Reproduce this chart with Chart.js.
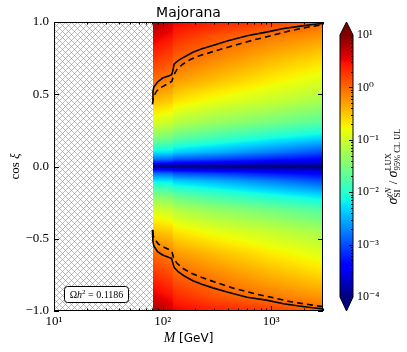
<!DOCTYPE html>
<html>
<head>
<meta charset="utf-8">
<script src="https://cdn.jsdelivr.net/npm/chart.js@4.4.1/dist/chart.umd.min.js"></script>
<style>
  html, body { margin: 0; padding: 0; background: #fff; }
</style>
</head>
<body>
<canvas id="chart" width="407" height="352"></canvas>
<script>
// log10(sigma_SI / sigma_UL), one row per mass node, at |cos xi| nodes
const massNodes = [81, 124, 126, 300, 1000, 3000];
const cosNodes = [0, 0.02, 0.05, 0.1, 0.2, 0.3, 0.45, 0.6, 0.75, 0.9, 1.0];
const logRatioM81   = [-4, -3.4, -2.8, -2.2, -1.45, -0.95, -0.45, 0.0, 0.3, 0.6, 0.85];
const logRatioM124  = [-4, -3.45, -2.85, -2.25, -1.55, -1.05, -0.55, -0.15, 0.15, 0.45, 0.65];
const logRatioM126  = [-4, -3.5, -2.95, -2.35, -1.65, -1.15, -0.65, -0.25, 0.05, 0.35, 0.55];
const logRatioM300  = [-4, -3.6, -3.05, -2.5, -1.85, -1.35, -0.85, -0.45, -0.15, 0.12, 0.4];
const logRatioM1000 = [-4, -3.7, -3.25, -2.75, -2.1, -1.55, -1.05, -0.7, -0.4, -0.1, 0.25];
const logRatioM3000 = [-4, -3.75, -3.4, -3.0, -2.3, -1.75, -1.25, -0.9, -0.6, -0.25, 0.0];
const logRatioRows = [logRatioM81, logRatioM124, logRatioM126, logRatioM300, logRatioM1000, logRatioM3000];

const mCut = 81; // hatched below this mass

// contour lines (M in GeV, cos xi)
const upperSolidM = [80.6, 81.5, 83, 90, 100, 115, 121, 124, 128, 140, 160, 190, 230, 290, 400, 600, 900, 1300, 1800, 2400, 3000];
const upperSolidC = [0.46, 0.52, 0.55, 0.585, 0.612, 0.628, 0.635, 0.66, 0.71, 0.735, 0.76, 0.79, 0.815, 0.838, 0.87, 0.905, 0.93, 0.955, 0.97, 0.983, 0.99];
const lowerSolidM = [80.6, 81.5, 83, 90, 100, 115, 121, 124, 128, 140, 160, 190, 230, 290, 400, 600, 900, 1300, 1800, 2400, 3000];
const lowerSolidC = [-0.44, -0.52, -0.55, -0.59, -0.612, -0.63, -0.636, -0.665, -0.70, -0.73, -0.76, -0.79, -0.815, -0.84, -0.87, -0.905, -0.925, -0.95, -0.965, -0.978, -0.985];
const upperDashM = [80.8, 82, 86, 91, 100, 115, 122, 126, 135, 153, 180, 218, 290, 440, 700, 1000, 1500, 2200, 3000];
const upperDashC = [0.43, 0.47, 0.51, 0.535, 0.553, 0.578, 0.59, 0.63, 0.67, 0.708, 0.74, 0.766, 0.795, 0.835, 0.877, 0.905, 0.94, 0.965, 0.982];
const lowerDashM = [80.8, 82, 86, 91, 100, 115, 122, 126, 135, 153, 180, 218, 290, 440, 700, 1000, 1500, 2200, 3000];
const lowerDashC = [-0.45, -0.48, -0.51, -0.535, -0.555, -0.576, -0.59, -0.63, -0.668, -0.704, -0.735, -0.762, -0.795, -0.84, -0.88, -0.905, -0.935, -0.955, -0.97];

const xTicks = [10, 100, 1000];
const yTicks = [-1, -0.5, 0, 0.5, 1];
const cbTicks = [1e-4, 1e-3, 1e-2, 1e-1, 1, 10];
const cbMinLog = -4, cbMaxLog = 1;

const SERIF = '"Liberation Serif", "DejaVu Serif", serif';
const SANS = '"DejaVu Sans", sans-serif';

const sup = { '0': '⁰', '1': '¹', '2': '²', '3': '³', '4': '⁴', '-': '⁻' };
function powLabel(v) {
  const e = String(Math.round(Math.log10(v)));
  return '10' + e.split('').map(ch => sup[ch]).join('');
}

const R = [[0, 0], [0.35, 0], [0.66, 1], [0.89, 1], [1, 0.5]];
const G = [[0, 0], [0.125, 0], [0.375, 1], [0.64, 1], [0.91, 0], [1, 0]];
const B = [[0, 0.5], [0.11, 1], [0.34, 1], [0.65, 0], [1, 0]];
function seg(pts, t) {
  for (let i = 0; i < pts.length - 1; i++) {
    const [x0, y0] = pts[i], [x1, y1] = pts[i + 1];
    if (t <= x1) return y0 + (y1 - y0) * (t - x0) / (x1 - x0);
  }
  return pts[pts.length - 1][1];
}
function jet(t) {
  t = Math.min(1, Math.max(0, t));
  return [seg(R, t) * 255, seg(G, t) * 255, seg(B, t) * 255];
}
function jetCss(t) {
  const [r, g, b] = jet(t);
  return `rgb(${r | 0},${g | 0},${b | 0})`;
}

function lookup(M, c) {
  const lm = Math.log10(M);
  let i = 0;
  while (i < massNodes.length - 2 && Math.log10(massNodes[i + 1]) < lm) i++;
  const l0 = Math.log10(massNodes[i]), l1 = Math.log10(massNodes[i + 1]);
  const tm = Math.min(1, Math.max(0, (lm - l0) / (l1 - l0)));
  c = Math.abs(c);
  let j = 0;
  while (j < cosNodes.length - 2 && cosNodes[j + 1] < c) j++;
  const tc = Math.min(1, Math.max(0, (c - cosNodes[j]) / (cosNodes[j + 1] - cosNodes[j])));
  const a = logRatioRows[i][j] * (1 - tc) + logRatioRows[i][j + 1] * tc;
  const b = logRatioRows[i + 1][j] * (1 - tc) + logRatioRows[i + 1][j + 1] * tc;
  return a * (1 - tm) + b * tm;
}

// text with stacked sub/superscripts
function drawRuns(ctx, runs, x, y, draw) {
  let cx = x, prevStart = x, prevW = 0;
  for (const r of runs) {
    ctx.font = r.f;
    const w = ctx.measureText(r.t).width;
    const sx = r.stack ? prevStart : cx;
    if (draw) ctx.fillText(r.t, sx, y + (r.dy || 0));
    cx = r.stack ? prevStart + Math.max(prevW, w) : sx + w;
    prevStart = sx; prevW = w;
  }
  return cx - x;
}
function drawCentered(ctx, runs, cx, y) {
  const w = drawRuns(ctx, runs, 0, 0, false);
  drawRuns(ctx, runs, cx - w / 2, y, true);
}

const heatmap = {
  id: 'heatmap',
  beforeDatasetsDraw(chart) {
    const { ctx, chartArea: a, scales: { x, y } } = chart;
    const w = Math.round(a.right - a.left), h = Math.round(a.bottom - a.top);
    const off = document.createElement('canvas');
    off.width = w; off.height = h;
    const octx = off.getContext('2d');
    const img = octx.createImageData(w, h);
    const cutPx = x.getPixelForValue(mCut);
    for (let i = 0; i < w; i++) {
      const px = a.left + i + 0.5;
      if (px < cutPx) continue;
      const M = x.getValueForPixel(px);
      for (let j = 0; j < h; j++) {
        const c = y.getValueForPixel(a.top + j + 0.5);
        const [r, g, b] = jet((lookup(M, c) - cbMinLog) / (cbMaxLog - cbMinLog));
        const k = (j * w + i) * 4;
        img.data[k] = r; img.data[k + 1] = g; img.data[k + 2] = b; img.data[k + 3] = 255;
      }
    }
    octx.putImageData(img, 0, 0);
    ctx.drawImage(off, a.left, a.top);

    // hatched region
    ctx.save();
    ctx.beginPath();
    ctx.rect(a.left, a.top, cutPx - a.left, a.bottom - a.top);
    ctx.fillStyle = '#fff';
    ctx.fill();
    ctx.clip();
    ctx.strokeStyle = '#8c8c8c';
    ctx.lineWidth = 0.6;
    ctx.beginPath();
    for (let d = -h; d < (cutPx - a.left) + h; d += 6) {
      ctx.moveTo(a.left + d, a.top); ctx.lineTo(a.left + d + h, a.bottom);
      ctx.moveTo(a.left + d, a.bottom); ctx.lineTo(a.left + d + h, a.top);
    }
    ctx.stroke();
    ctx.restore();
  },
  afterDatasetsDraw(chart) {
    const { ctx, chartArea: a, scales: { x, y } } = chart;
    ctx.save();
    ctx.strokeStyle = '#000';
    ctx.lineWidth = 1;
    ctx.strokeRect(a.left + 0.5, a.top + 0.5, a.right - a.left - 1, a.bottom - a.top - 1);
    ctx.beginPath();
    // x ticks, major and minor, top and bottom, inward
    for (let e = 1; e <= 3; e++) {
      for (let m = 1; m <= 9; m++) {
        const v = m * Math.pow(10, e);
        if (v < 10 || v > 3000) continue;
        const px = Math.round(x.getPixelForValue(v)) + 0.5;
        const len = m === 1 ? 5 : 2.5;
        ctx.moveTo(px, a.bottom); ctx.lineTo(px, a.bottom - len);
        ctx.moveTo(px, a.top); ctx.lineTo(px, a.top + len);
      }
    }
    for (const v of yTicks) {
      const py = Math.round(y.getPixelForValue(v)) + 0.5;
      ctx.moveTo(a.left, py); ctx.lineTo(a.left + 5, py);
      ctx.moveTo(a.right, py); ctx.lineTo(a.right - 5, py);
    }
    ctx.stroke();
    ctx.restore();
  },
  afterDraw(chart) {
    const { ctx, chartArea: a, scales: { cb } } = chart;
    ctx.save();
    // colorbar
    const x0 = 340, x1 = 353, xm = (x0 + x1) / 2;
    const yHi = cb.getPixelForValue(10), yLo = cb.getPixelForValue(1e-4);
    for (let py = Math.floor(yHi); py < Math.ceil(yLo); py++) {
      const v = cb.getValueForPixel(py + 0.5);
      ctx.fillStyle = jetCss((Math.log10(v) - cbMinLog) / (cbMaxLog - cbMinLog));
      ctx.fillRect(x0, py, x1 - x0, 1);
    }
    ctx.fillStyle = jetCss(1);
    ctx.beginPath(); ctx.moveTo(x0, yHi); ctx.lineTo(xm, a.top); ctx.lineTo(x1, yHi); ctx.closePath(); ctx.fill();
    ctx.fillStyle = jetCss(0);
    ctx.beginPath(); ctx.moveTo(x0, yLo); ctx.lineTo(xm, a.bottom); ctx.lineTo(x1, yLo); ctx.closePath(); ctx.fill();
    ctx.strokeStyle = '#000'; ctx.lineWidth = 1;
    ctx.beginPath();
    ctx.moveTo(x0, yHi); ctx.lineTo(xm, a.top); ctx.lineTo(x1, yHi);
    ctx.lineTo(x1, yLo); ctx.lineTo(xm, a.bottom); ctx.lineTo(x0, yLo); ctx.closePath();
    ctx.stroke();
    ctx.beginPath();
    for (let e = -4; e <= 1; e++) {
      for (let m = 1; m <= 9; m++) {
        const v = m * Math.pow(10, e);
        if (v > 10) continue;
        const py = Math.round(cb.getPixelForValue(v)) + 0.5;
        const len = m === 1 ? 4 : 2;
        ctx.moveTo(x1, py); ctx.lineTo(x1 - len, py);
      }
    }
    ctx.stroke();

    ctx.fillStyle = '#000';
    ctx.textBaseline = 'alphabetic';
    // title
    ctx.font = '14px ' + SANS;
    ctx.textAlign = 'center';
    ctx.fillText('Majorana', (a.left + a.right) / 2, 17);
    ctx.textAlign = 'left';
    // x title
    drawCentered(ctx, [
      { t: 'M', f: 'italic 14px ' + SERIF },
      { t: ' [GeV]', f: '12px ' + SANS }
    ], (a.left + a.right) / 2, 342);
    // y title
    ctx.save();
    ctx.translate(19, (a.top + a.bottom) / 2);
    ctx.rotate(-Math.PI / 2);
    drawCentered(ctx, [
      { t: 'cos ', f: '13px ' + SERIF },
      { t: 'ξ', f: 'italic 13px ' + SERIF }
    ], 0, 0);
    ctx.restore();
    // colorbar title
    ctx.save();
    ctx.translate(397, (a.top + a.bottom) / 2);
    ctx.rotate(-Math.PI / 2);
    drawCentered(ctx, [
      { t: 'σ', f: 'italic 14px ' + SERIF },
      { t: 'χN', f: 'italic 9px ' + SERIF, dy: -6 },
      { t: 'SI', f: '9px ' + SERIF, dy: 3, stack: true },
      { t: ' / ', f: '13px ' + SERIF },
      { t: 'σ', f: 'italic 14px ' + SERIF },
      { t: 'LUX', f: '8.5px ' + SERIF, dy: -6 },
      { t: '95% CL UL', f: '8.5px ' + SERIF, dy: 3, stack: true }
    ], 0, 0);
    ctx.restore();
    // relic density box
    ctx.beginPath();
    ctx.roundRect(64.5, 286.5, 64, 16, 3);
    ctx.fillStyle = '#fff';
    ctx.fill();
    ctx.strokeStyle = '#000';
    ctx.stroke();
    ctx.fillStyle = '#000';
    drawCentered(ctx, [
      { t: 'Ω', f: '10px ' + SERIF },
      { t: 'h', f: 'italic 10px ' + SERIF },
      { t: '2', f: '7px ' + SERIF, dy: -4 },
      { t: ' = 0.1186', f: '10px ' + SERIF }
    ], 96.5, 298);
    ctx.restore();
  }
};

const line = (ms, cs, dash) => ({
  data: ms.map((m, i) => ({ x: m, y: cs[i] })),
  showLine: true,
  pointRadius: 0,
  borderColor: '#000',
  borderWidth: 1.6,
  borderDash: dash
});

new Chart(document.getElementById('chart'), {
  type: 'scatter',
  data: {
    datasets: [
      line(upperSolidM, upperSolidC, []),
      line(lowerSolidM, lowerSolidC, []),
      line(upperDashM, upperDashC, [6, 4]),
      line(lowerDashM, lowerDashC, [6, 4])
    ]
  },
  options: {
    responsive: false,
    animation: false,
    devicePixelRatio: 1,
    layout: { padding: { top: 22, left: 0, right: 0, bottom: 0 } },
    plugins: { legend: { display: false }, tooltip: { enabled: false } },
    scales: {
      x: {
        type: 'logarithmic',
        min: 10,
        max: 3000,
        grid: { display: false, drawTicks: false },
        border: { display: false },
        afterBuildTicks: s => { s.ticks = xTicks.map(v => ({ value: v })); },
        afterFit: s => { s.height = 41; },
        ticks: {
          autoSkip: false, maxRotation: 0, padding: 3, color: '#000',
          font: { family: SERIF, size: 13 },
          callback: v => powLabel(v)
        }
      },
      y: {
        type: 'linear',
        min: -1,
        max: 1,
        grid: { display: false, drawTicks: false },
        border: { display: false },
        afterBuildTicks: s => { s.ticks = yTicks.map(v => ({ value: v })); },
        afterFit: s => { s.width = 54; },
        ticks: {
          padding: 5, color: '#000',
          font: { family: SERIF, size: 13 },
          callback: v => (v < 0 ? '−' : '') + Math.abs(v).toFixed(1)
        }
      },
      cb: {
        type: 'logarithmic',
        axis: 'y',
        position: 'right',
        min: Math.pow(10, -4.267),
        max: Math.pow(10, 1.248),
        grid: { display: false, drawTicks: true, tickLength: 32 },
        border: { display: false },
        afterBuildTicks: s => { s.ticks = cbTicks.map(v => ({ value: v })); },
        afterFit: s => { s.width = 84; },
        ticks: {
          padding: 2, color: '#000',
          font: { family: SERIF, size: 12 },
          callback: v => powLabel(v)
        }
      }
    }
  },
  plugins: [heatmap]
});
</script>
</body>
</html>
